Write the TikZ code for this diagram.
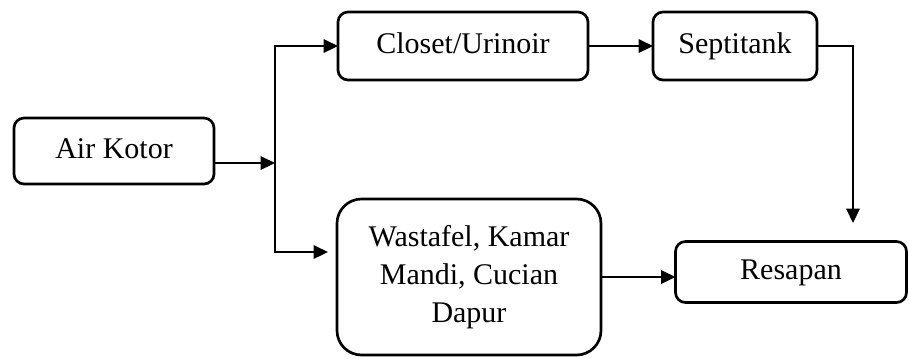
\documentclass[tikz,border=0pt]{standalone}
\usepackage{fontspec}
\setmainfont{Liberation Serif}
\usetikzlibrary{arrows.meta,positioning}

\begin{document}
\begin{tikzpicture}[
    x=0.45pt, y=-0.45pt,
    box/.style={rectangle, rounded corners=4.5pt, draw=black, line width=1.2pt,
                align=center, inner sep=0pt, outer sep=0pt,
                font=\fontsize{13.5}{17}\selectfont},
    onebox/.style={box, text height=0.66em, text depth=0pt},
    arr/.style={-{Triangle[length=6.5pt,width=6pt]}, line width=1.2pt}
]
\useasboundingbox (0,0) rectangle (909,358);

% --- boxes ---
\node[onebox, minimum width=200*0.45pt, minimum height=66*0.45pt] (kotor) at (114,151) {Air Kotor};
\node[onebox, minimum width=250*0.45pt, minimum height=68*0.45pt] (closet) at (463,46) {Closet/Urinoir};
\node[onebox, minimum width=164*0.45pt, minimum height=68*0.45pt] (septi) at (735,46) {Septitank};
\node[box, rounded corners=11pt, minimum width=264*0.45pt, minimum height=156*0.45pt] (wasta) at (469,277) {Wastafel, Kamar\\Mandi, Cucian\\Dapur};
\node[onebox, minimum width=231*0.45pt, minimum height=61*0.45pt] (resap) at (791,272) {Resapan};

% --- junction and free ends ---
\coordinate (split) at (275,163);
\coordinate (wtip) at (328,252);
\coordinate (rtip) at (853,223);

% arrows
\draw[arr] (kotor.east |- split) -- (split);
\draw[arr] (split) |- (closet.west);
\draw[arr] (split) |- (wtip);
\draw[arr] (closet) -- (septi);
\draw[arr] (septi.east) -| (rtip);
\draw[arr] (wasta.east) -- (wasta.east -| resap.west);

\end{tikzpicture}
\end{document}
